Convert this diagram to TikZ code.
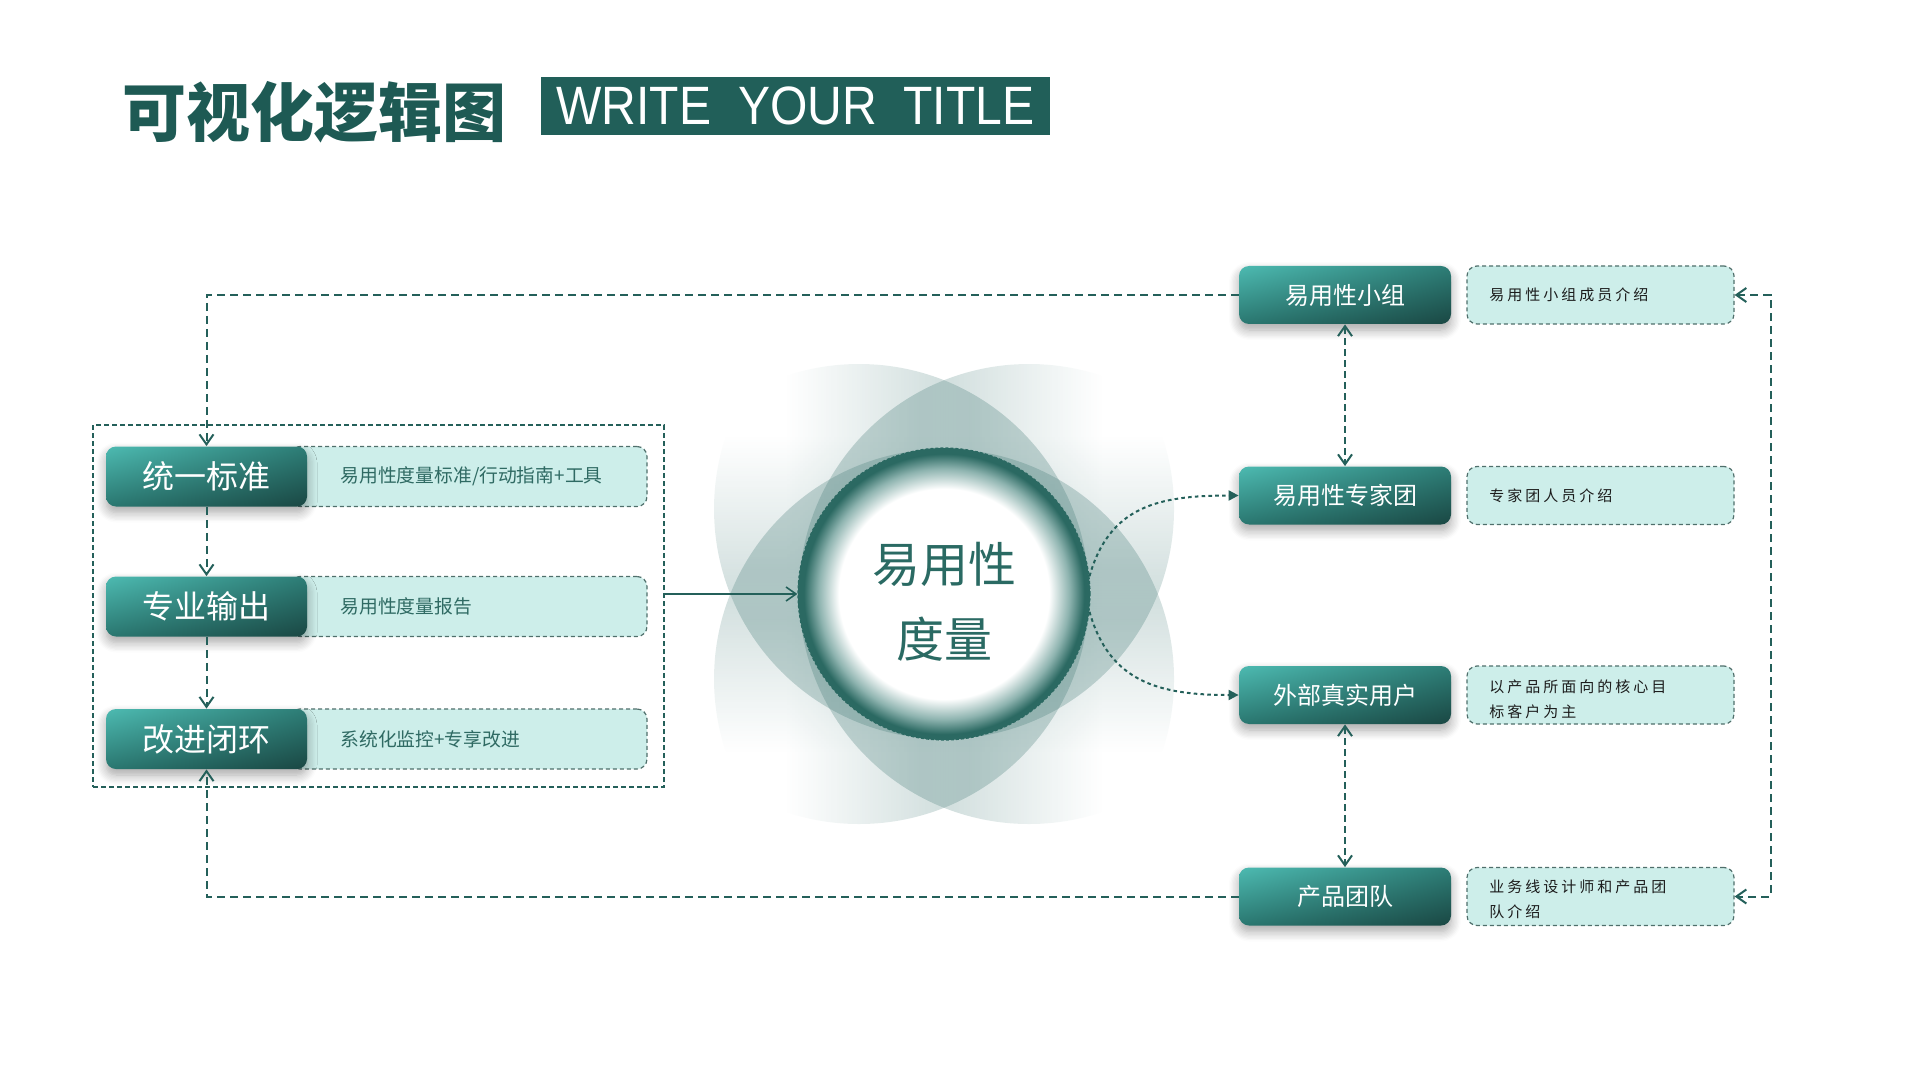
\documentclass[tikz,border=0pt]{standalone}
\usepackage{fontspec}
\usepackage{graphicx}
\setmainfont{Liberation Sans}
\newfontfamily\cjk{Noto Sans CJK SC}
\newfontfamily\cjkls{Noto Sans CJK SC}[LetterSpace=20]
\usetikzlibrary{arrows.meta,shadows.blur,fadings,shadings}

\definecolor{tealdark}{HTML}{215F59}
\definecolor{titlec}{HTML}{1E5A54}
\definecolor{linec}{HTML}{24605A}
\definecolor{lightbox}{HTML}{CDEEEA}
\definecolor{lightborder}{HTML}{4F6F6B}
\definecolor{petalc}{HTML}{3F7773}
\definecolor{ringdark}{HTML}{2B6962}
\definecolor{ringmid}{HTML}{8DB3AF}
\definecolor{circtext}{HTML}{2A6A63}
\definecolor{ltext}{HTML}{2F6A63}
\definecolor{rtext}{HTML}{1C1C1C}
\definecolor{bUL}{HTML}{4DBAB1}
\definecolor{bUR}{HTML}{2D7D76}
\definecolor{bLL}{HTML}{2A7770}
\definecolor{bLR}{HTML}{1A4743}

\pgfdeclarehorizontalshading{shL}{100bp}{color(0bp)=(black); color(42bp)=(black); color(62bp)=(white); color(100bp)=(white)}
\pgfdeclarehorizontalshading{shR}{100bp}{color(0bp)=(white); color(38bp)=(white); color(58bp)=(black); color(100bp)=(black)}
\pgfdeclareverticalshading{shT}{100bp}{color(0bp)=(white); color(38bp)=(white); color(58bp)=(black); color(100bp)=(black)}
\pgfdeclareverticalshading{shB}{100bp}{color(0bp)=(black); color(42bp)=(black); color(62bp)=(white); color(100bp)=(white)}
\pgfdeclarefading{fadeL}{\pgfuseshading{shL}}
\pgfdeclarefading{fadeR}{\pgfuseshading{shR}}
\pgfdeclarefading{fadeT}{\pgfuseshading{shT}}
\pgfdeclarefading{fadeB}{\pgfuseshading{shB}}
\pgfdeclareradialshading{ringshade}{\pgfpoint{0bp}{0bp}}{color(0bp)=(white); color(18bp)=(white); color(21.5bp)=(ringmid); color(24bp)=(ringdark); color(25bp)=(ringdark); color(50bp)=(ringdark)}

\tikzset{
  darkbox/.style={shade, rounded corners=5pt, inner sep=0pt,
    upper left=bUL, upper right=bUR, lower left=bLL, lower right=bLR,
    text=white,
    blur shadow={shadow xshift=0pt, shadow yshift=-3pt, shadow blur radius=5pt, shadow blur steps=8, shadow opacity=35}},
  leftdark/.style={darkbox, minimum width=100.5pt, minimum height=30pt, font=\cjk\fontsize{16pt}{16pt}\selectfont},
  rightdark/.style={darkbox, minimum width=106pt, minimum height=29pt, font=\cjk\fontsize{12pt}{12pt}\selectfont},
  lbox/.style={rounded corners=5pt, fill=lightbox, draw=lightborder, line width=0.6pt, dash pattern=on 2pt off 1.5pt, inner sep=0pt},
  lefttext/.style={anchor=west, inner sep=0pt, text=ltext, font=\cjk\fontsize{9.4pt}{11pt}\selectfont},
  righttext/.style={anchor=west, inner sep=0pt, text=rtext, align=left, font=\cjkls\fontsize{7.5pt}{12.5pt}\selectfont},
  conn/.style={draw=linec, line width=1pt, dash pattern=on 4pt off 2.5pt},
  conn2/.style={draw=linec, line width=1pt, dash pattern=on 3.5pt off 2pt},
  dotconn/.style={draw=linec, line width=1pt, dash pattern=on 1.8pt off 1.6pt},
  petal/.style={fill=petalc, fill opacity=0.28},
  >={Straight Barb[length=5pt,width=7pt]}
}

\begin{document}
\begin{tikzpicture}[x=0.5pt, y=-0.5pt]
\useasboundingbox (0,0) rectangle (1920,1080);

% petals
\fill[petal, path fading=fadeL] (859,594) circle[radius=115pt];
\fill[petal, path fading=fadeR] (1029,594) circle[radius=115pt];
\fill[petal, path fading=fadeT] (944,509) circle[radius=115pt];
\fill[petal, path fading=fadeB] (944,679) circle[radius=115pt];

% central circle
\node[circle, minimum size=146pt, inner sep=0pt, shade, shading=ringshade,
  draw=ringdark, line width=0.6pt, dash pattern=on 1.5pt off 1pt] (circ) at (944,594) {};
\node[align=center, inner sep=0pt, text=circtext, font=\cjk\fontsize{24pt}{30pt}\selectfont] (ctext) at (944,602) {易用性\\[7.5pt]度量};

% title
\node[font=\cjk\bfseries\fontsize{32pt}{32pt}\selectfont, text=titlec, inner sep=0pt] (title) at (314,112) {可视化逻辑图};
\node[fill=tealdark, minimum width=254.5pt, minimum height=29pt, inner sep=0pt, text=white,
  font=\fontsize{27pt}{27pt}\selectfont] (wbox) at (795.5,106) {\scalebox{0.89}[1]{WRITE\ \ YOUR\ \ TITLE}};

% left group frame
\node[draw=linec, line width=1pt, dash pattern=on 2.5pt off 1.5pt, minimum width=285.5pt, minimum height=181pt, inner sep=0pt] (outer) at (378.5,606) {};

% left light boxes
\node[lbox, minimum width=178.5pt, minimum height=30pt] (la1) at (468.5,476.5) {};
\node[lbox, minimum width=178.5pt, minimum height=30pt] (la2) at (468.5,606.5) {};
\node[lbox, minimum width=178.5pt, minimum height=30pt] (la3) at (468.5,739) {};

% right light boxes
\node[lbox, minimum width=133.5pt, minimum height=29pt] (l1) at (1600.5,295) {};
\node[lbox, minimum width=133.5pt, minimum height=29pt] (l2) at (1600.5,495.5) {};
\node[lbox, minimum width=133.5pt, minimum height=29pt] (l3) at (1600.5,695) {};
\node[lbox, minimum width=133.5pt, minimum height=29pt] (l4) at (1600.5,896.5) {};

% left dark boxes
\node[leftdark] (a1) at (206.5,476.5) {统一标准};
\node[leftdark] (a2) at (206.5,606.5) {专业输出};
\node[leftdark] (a3) at (206.5,739) {改进闭环};

% right dark boxes
\node[rightdark] (g1) at (1345,295) {易用性小组};
\node[rightdark] (g2) at (1345,495.5) {易用性专家团};
\node[rightdark] (g3) at (1345,695) {外部真实用户};
\node[rightdark] (g4) at (1345,896.5) {产品团队};

% texts in light boxes
\node[lefttext] (ta1) at (340,476.5) {易用性度量标准/行动指南+工具};
\node[lefttext] (ta2) at (340,606.5) {易用性度量报告};
\node[lefttext] (ta3) at (340,739) {系统化监控+专享改进};
\node[righttext] (t1) at (1489,295) {易用性小组成员介绍};
\node[righttext] (t2) at (1489,495.5) {专家团人员介绍};
\node[righttext] (t3) at (1489,699) {以产品所面向的核心目\\标客户为主};
\node[righttext] (t4) at (1489,899) {业务线设计师和产品团\\队介绍};

% connectors
\coordinate (rb) at (1771,596);
\draw[conn, ->] (g1.west) -- (g1.west -| a1.north) -- (a1.north);
\draw[conn, ->] (a1.south) -- (a2.north);
\draw[conn, ->] (a2.south) -- (a3.north);
\draw[conn, ->] (g4.west) -- (g4.west -| a3.south) -- (a3.south);
\draw[conn, <->] (l1.east) -- (l1.east -| rb) -- (l4.east -| rb) -- (l4.east);
\draw[conn2, <->] (g1.south) -- (g2.north);
\draw[conn2, <->] (g3.south) -- (g4.north);
\draw[draw=linec, line width=0.8pt, ->] (outer.east |- circ.center) -- (circ.west);
\draw[dotconn, -{Triangle[length=5pt,width=5pt]}] (circ.7) .. controls +(20,-70) and +(-80,0) .. (g2.west);
\draw[dotconn, -{Triangle[length=5pt,width=5pt]}] (circ.-7) .. controls +(20,70) and +(-80,0) .. (g3.west);
\end{tikzpicture}
\end{document}
